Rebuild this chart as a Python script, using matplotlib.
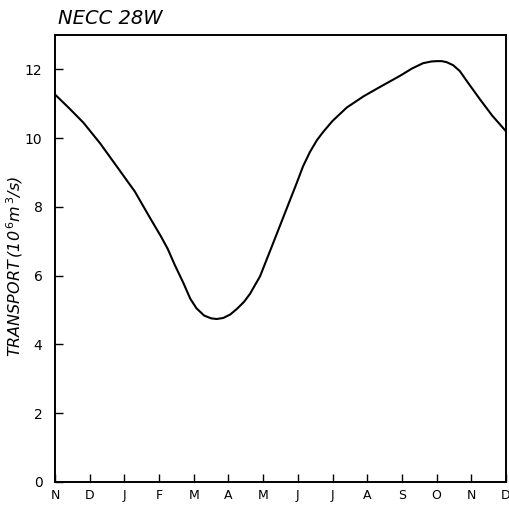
import matplotlib

matplotlib.use("Agg")
import matplotlib.pyplot as plt

# month positions (0 = Nov) and transport
month_labels = ["N", "D", "J", "F", "M", "A", "M", "J", "J", "A", "S", "O", "N", "D"]
month_pos = [0.00, 0.40, 0.82, 1.30, 1.78, 2.30, 2.74, 3.05, 3.25, 3.45, 3.70, 3.90,
             4.08, 4.30, 4.50, 4.66, 4.85, 5.05, 5.24, 5.45, 5.62, 5.91, 6.20, 6.48,
             6.97, 7.15, 7.35, 7.55, 7.73, 8.00, 8.41, 8.90, 9.37, 9.94, 10.30, 10.61,
             10.85, 11.00, 11.15, 11.29, 11.48, 11.67, 11.90, 12.25, 12.60, 13.00]
transport = [11.27, 10.88, 10.45, 9.85, 9.18, 8.45, 7.68, 7.15, 6.78, 6.32, 5.79, 5.33,
             5.05, 4.84, 4.76, 4.74, 4.77, 4.87, 5.03, 5.24, 5.47, 5.98, 6.72, 7.44,
             8.70, 9.18, 9.60, 9.94, 10.18, 10.50, 10.89, 11.22, 11.49, 11.81, 12.03, 12.18,
             12.23, 12.24, 12.24, 12.21, 12.12, 11.95, 11.62, 11.13, 10.66, 10.20]
y_ticks = [0, 2, 4, 6, 8, 10, 12]

fig = plt.figure(figsize=(5.10, 5.08), dpi=100)
ax = fig.add_axes([0.1078, 0.0512, 0.8843, 0.8799])

ax.plot(month_pos, transport, color="black", lw=1.5, solid_capstyle="round",
        solid_joinstyle="round")

ax.set_xlim(0, 13)
ax.set_ylim(0, 13)
ax.set_xticks(range(len(month_labels)))
ax.set_xticklabels(month_labels, fontsize=9)
ax.set_yticks(y_ticks)
ax.set_yticklabels([str(v) for v in y_ticks], fontsize=10)
ax.tick_params(axis="both", direction="in", length=6, width=1.0, pad=5)
ax.tick_params(axis="y", pad=9)
for sp in ax.spines.values():
    sp.set_linewidth(1.4)

ax.set_ylabel(r"TRANSPORT$\,$(10$^{\,6}$m$^{\,3}$/s)", fontsize=11.5, style="italic")
ax.yaxis.set_label_coords(-0.066, 0.483)

fig.text(0.113, 0.945, "NECC 28W", fontsize=14, style="italic", ha="left", va="bottom")

fig.savefig("out.png", dpi=100)
